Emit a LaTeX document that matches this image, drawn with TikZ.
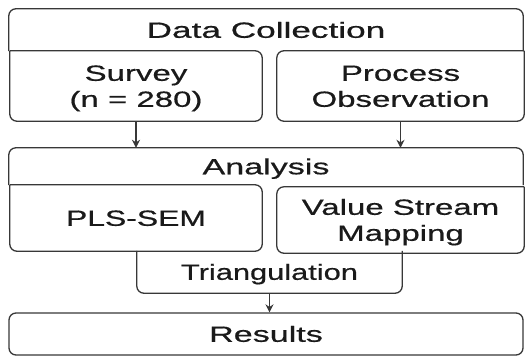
\documentclass[tikz,border=0pt]{standalone}
\usepackage{graphicx}
\usepackage{fontspec}
\setmainfont{Liberation Sans}[FakeBold=0.5]
\usetikzlibrary{arrows.meta}

\definecolor{ln}{HTML}{383838}
\definecolor{txt}{HTML}{1A1A1A}

% stretched text, one or more lines
\newcommand{\wide}[2][1.5]{\raisebox{-2.6pt}[\height][\depth]{\scalebox{#1}[1]{\begin{tabular}{@{}c@{}}#2\end{tabular}}}}

\begin{document}
\begin{tikzpicture}
    [
        x=1pt, y=-1pt,
        area/.style={rectangle, inner sep=0pt, text=txt, font=\fontsize{22}{26}\selectfont},
        edge/.style={draw=ln, line width=1.3pt, rounded corners=7pt},
        link/.style={draw=ln, line width=1.3pt, -{Stealth[length=8pt, width=8pt]}},
    ]
    \useasboundingbox (0,0) rectangle (526,358);

    \node (dc) at (266,30) [area, minimum width=514pt, minimum height=42pt] {\wide[1.6]{Data Collection}};
    \node (survey) at (136,86) [area, minimum width=252pt, minimum height=70pt] {\wide{Survey\\(n = 280)}};
    \node (process) at (400.5,86) [area, minimum width=247pt, minimum height=70pt] {\wide{Process\\Observation}};

    \node (an) at (266,166.5) [area, minimum width=514pt, minimum height=37pt] {\wide[1.55]{Analysis}};
    \node (pls) at (136,218) [area, minimum width=252pt, minimum height=66pt] {\wide[1.45]{PLS-SEM}};
    \node (vsm) at (400.5,220) [area, minimum width=247pt, minimum height=66pt] {\wide{Value Stream\\Mapping}};
    \node (tri) at (269.5,272) [area, minimum width=265pt, minimum height=42pt] {\wide[1.4]{Triangulation}};

    \node (res) at (266,334) [area, edge, minimum width=514pt, minimum height=42pt] {\wide[1.55]{Results}};

    % boxes
    \draw [edge] (dc.south west) |- (dc.north) -| (dc.south east);
    \draw [edge] (survey.north west) -| (survey.south east) -| (survey.north west);
    \draw [edge] (process.north east) -| (process.south west) -| (process.north east);
    \draw [edge] (an.south west) |- (an.north) -| (an.south east);
    \draw [edge] (pls.north west) -| (pls.south east) -| (pls.north west);
    \draw [edge] (vsm.north east) -| (vsm.south west) -| (vsm.north east);
    \draw [edge] (tri.north west) |- (tri.south) -| (tri.north east);

    % arrows
    \draw [link] (survey) -- (survey |- an.north);
    \draw [link] (process) -- (process |- an.north);
    \draw [link] (tri) -- (tri |- res.north);
\end{tikzpicture}
\end{document}
